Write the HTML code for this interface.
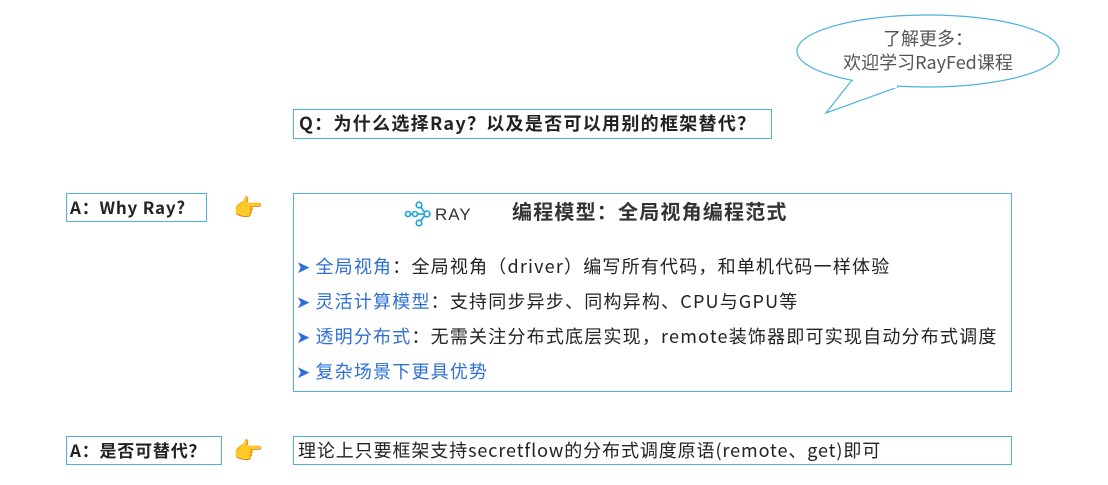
<!DOCTYPE html>
<html><head><meta charset="utf-8"><style>
body{margin:0;width:1108px;height:485px;background:#fff;position:relative;overflow:hidden;font-family:"Noto Sans CJK SC","Liberation Sans",sans-serif;color:#222}
.b{position:absolute;border:1.5px solid #4db4d8;box-sizing:border-box}
.t{position:absolute;white-space:nowrap;line-height:24px;letter-spacing:1.2px}
.bold{font-weight:bold}
.bl{color:#2e6fd6}
.ar{color:#2e6fd6;font-size:17px;margin-right:4px}
</style></head><body>
<svg width="1108" height="485" style="position:absolute;left:0;top:0">
<path d="M852,80 L826,113 L898,87" fill="#fff" stroke="#4db4d8" stroke-width="1.2"/>
<ellipse cx="928" cy="51" rx="131" ry="36" fill="#fff" stroke="#4db4d8" stroke-width="1.2"/>
<path d="M853,81 L897,87" stroke="#fff" stroke-width="3"/>
<g stroke="#1aa3d9" stroke-width="1.6" fill="#fff">
<line x1="410" y1="214" x2="426" y2="214"/><line x1="419" y1="205" x2="426" y2="214"/><line x1="419" y1="223" x2="426" y2="214"/>
<circle cx="408" cy="214" r="2.5"/><circle cx="415" cy="214" r="2.5"/><circle cx="419" cy="205" r="2.8"/><circle cx="419" cy="223" r="2.8"/><circle cx="427" cy="214" r="3"/>
</g>
</svg>
<div class="t" style="left:828px;top:26px;font-size:18px;color:#555;width:200px;text-align:center;letter-spacing:0">了解更多：<br>欢迎学习RayFed课程</div>
<div class="b" style="left:293px;top:109px;width:479px;height:30px"></div>
<div class="t bold" style="left:299px;top:111px;font-size:18px;letter-spacing:1.3px">Q：为什么选择Ray？以及是否可以用别的框架替代？</div>
<div class="b" style="left:66px;top:193px;width:141px;height:29px"></div>
<div class="t bold" style="left:70px;top:195px;font-size:17px;letter-spacing:0.8px">A：Why Ray?</div>
<div class="t" style="left:233px;top:194px;font-size:24px">👉</div>
<div class="b" style="left:293px;top:193px;width:719px;height:199px"></div>
<div class="t" style="left:435px;top:203px;font-size:17px;color:#333;letter-spacing:1px;font-family:'Liberation Sans',sans-serif">RAY</div>
<div class="t bold" style="left:512px;top:199px;font-size:20px;color:#333">编程模型：全局视角编程范式</div>
<div class="t" style="left:296px;top:254px;font-size:18px"><span class="ar">➤</span><span class="bl">全局视角</span>：全局视角（driver）编写所有代码，和单机代码一样体验</div>
<div class="t" style="left:296px;top:289px;font-size:18px"><span class="ar">➤</span><span class="bl">灵活计算模型</span>：支持同步异步、同构异构、CPU与GPU等</div>
<div class="t" style="left:296px;top:324px;font-size:18px"><span class="ar">➤</span><span class="bl">透明分布式</span>：无需关注分布式底层实现，remote装饰器即可实现自动分布式调度</div>
<div class="t" style="left:296px;top:359px;font-size:18px"><span class="ar">➤</span><span class="bl">复杂场景下更具优势</span></div>
<div class="b" style="left:66px;top:436px;width:156px;height:29px"></div>
<div class="t bold" style="left:70px;top:438px;font-size:17px;letter-spacing:0.8px">A：是否可替代？</div>
<div class="t" style="left:233px;top:437px;font-size:24px">👉</div>
<div class="b" style="left:293px;top:436px;width:719px;height:29px"></div>
<div class="t" style="left:298px;top:438px;font-size:18px;letter-spacing:0.9px">理论上只要框架支持secretflow的分布式调度原语(remote、get)即可</div>
</body></html>
